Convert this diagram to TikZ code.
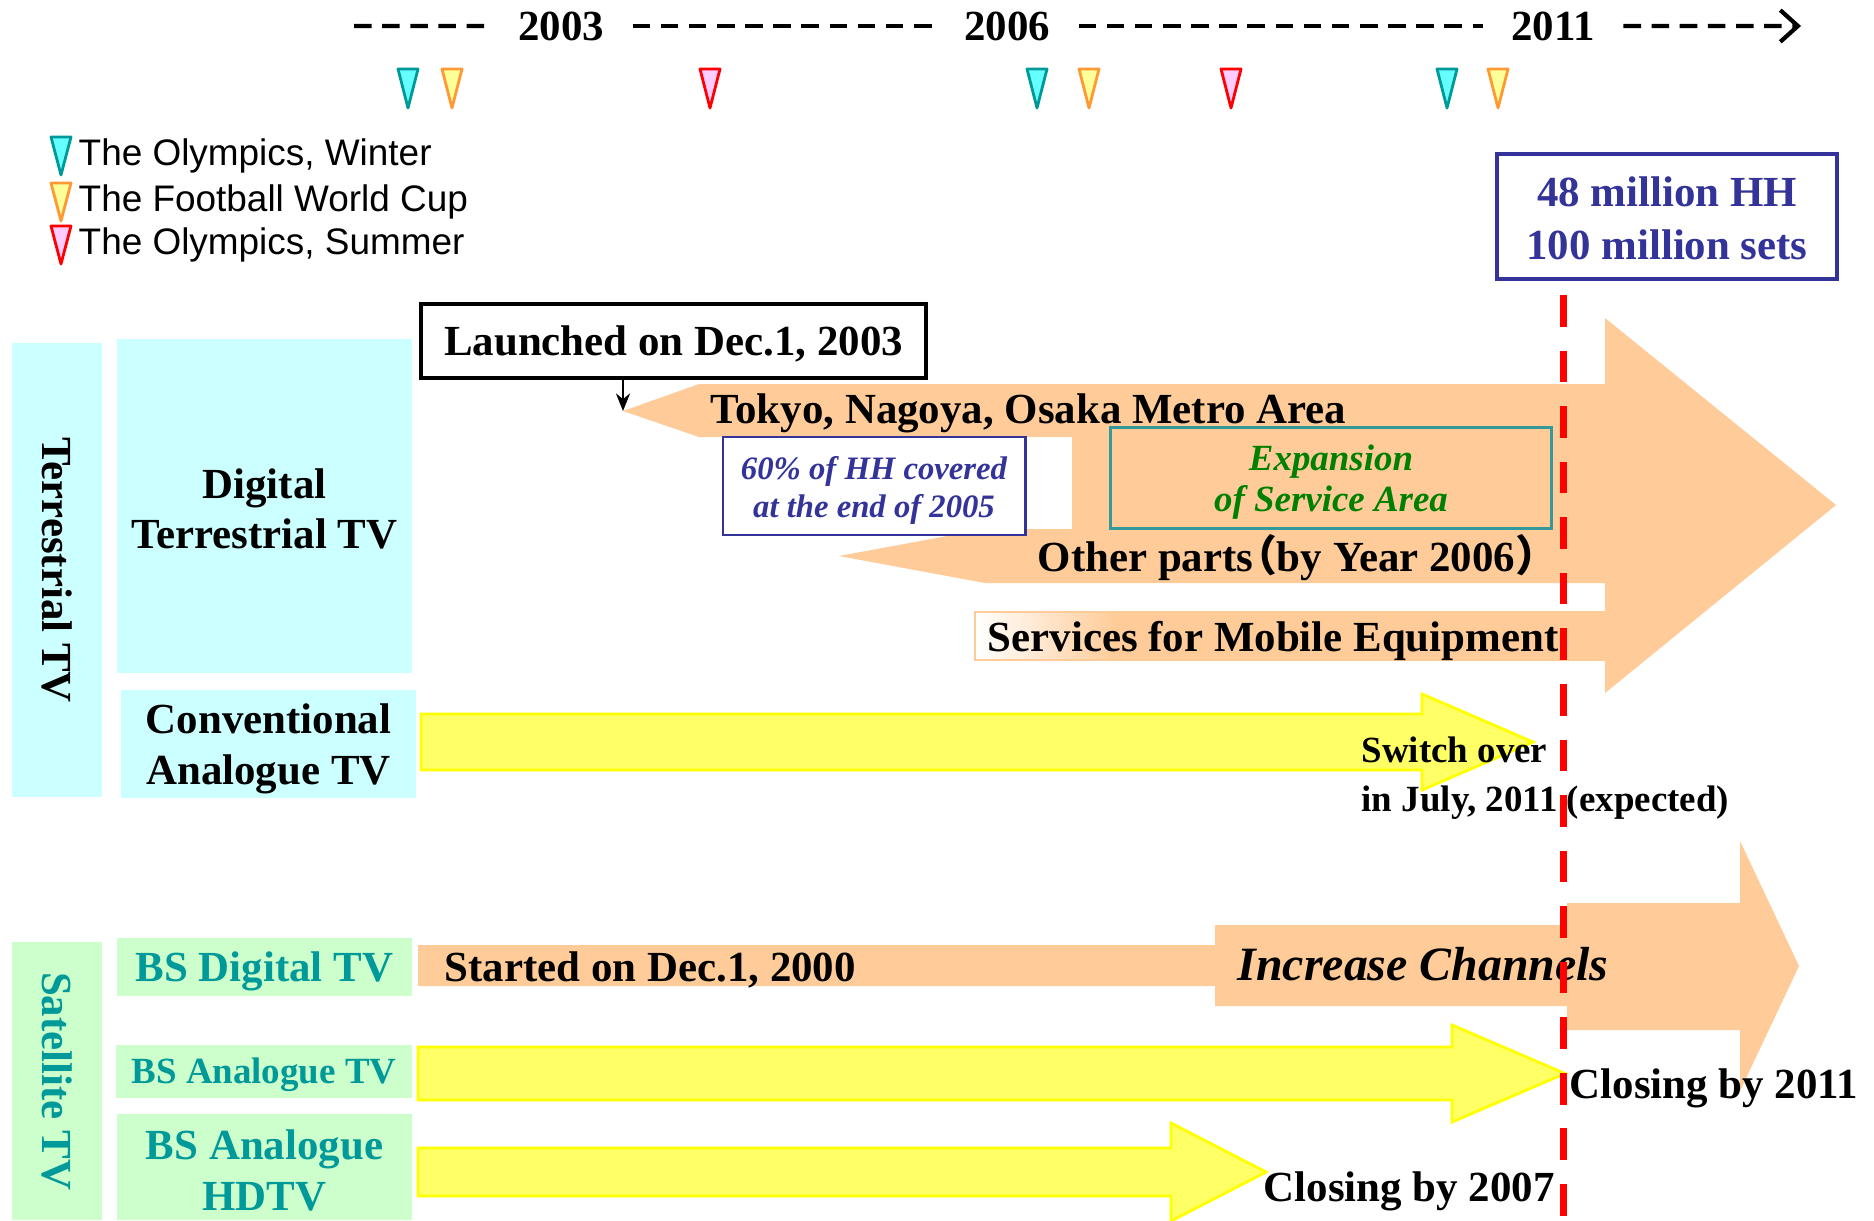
\documentclass[tikz,border=0pt]{standalone}
\usepackage{fontspec}
\setmainfont{Liberation Serif}
\newfontfamily\legendfont{Liberation Sans}
\newfontfamily\cjkfont{Noto Sans CJK JP}
\usepackage{tikz}
\usetikzlibrary{arrows.meta}
\definecolor{termcyan}{HTML}{CCFFFF}
\definecolor{satgreen}{HTML}{CCFFCC}
\definecolor{satteal}{HTML}{009999}
\definecolor{bandorange}{HTML}{FFCC99}
\definecolor{baryellow}{HTML}{FFFF66}
\definecolor{edgeyellow}{HTML}{FFFF00}
\definecolor{hhblue}{HTML}{333399}
\definecolor{expgreen}{HTML}{008000}
\definecolor{expedge}{HTML}{339999}
\definecolor{winterfill}{HTML}{66FFFF}
\definecolor{winterdraw}{HTML}{009999}
\definecolor{cupfill}{HTML}{FFFF99}
\definecolor{cupdraw}{HTML}{FF9933}
\definecolor{summerfill}{HTML}{FFCCFF}
\definecolor{summerdraw}{HTML}{FF0000}
\tikzstyle{bigfont} = [font=\bfseries\fontsize{12.2}{14.4}\selectfont]
\tikzstyle{midfont} = [font=\bfseries\fontsize{10.5}{14}\selectfont]
\tikzstyle{year} = [bigfont, inner xsep=2.8mm, inner ysep=0pt, text height=8pt, text depth=0pt, anchor=base]
\tikzstyle{timeline} = [line width=1.2pt, dash pattern=on 5pt off 3pt]
\tikzstyle{caption} = [bigfont, inner sep=0pt, anchor=base west]
\tikzstyle{legend} = [inner sep=0pt, anchor=base west, font=\legendfont\fontsize{10.5}{12}\selectfont]
\tikzstyle{category} = [bigfont, fill=termcyan, rotate=-90, minimum height=0.9cm, inner sep=0pt]
\tikzstyle{service} = [fill=termcyan, minimum width=2.95cm, inner sep=0pt]
\tikzstyle{bsservice} = [service, bigfont, fill=satgreen, text=satteal]
\tikzstyle{boxtext} = [bigfont, align=center, inner sep=0pt]
\tikzstyle{yellowbar} = [fill=baryellow, draw=edgeyellow, line width=0.8pt]
\tikzstyle{orangebar} = [fill=bandorange]
\tikzstyle{flag} = [line width=0.8pt, line join=round]

\begin{document}
\begin{tikzpicture}[x=0.01cm, y=-0.01cm]
    \useasboundingbox (0,0) rectangle (1874,1220);
    % time axis
    \node[year] (y2003) at (561,40) {2003};
    \node[year] (y2006) at (1007,40) {2006};
    \node[year] (y2011) at (1553,40) {2011};
    \coordinate (tstart) at (354,26);
    \coordinate (tend) at (1801,26);
    \draw[timeline] (tstart) -- (y2003.west);
    \draw[timeline] (y2003.east) -- (y2006.west);
    \draw[timeline] (y2006.east) -- (y2011.west);
    \draw[timeline, -{Straight Barb[length=5pt, width=9pt]}] (y2011.east) -- (tend);
    \foreach \x in {408,1037,1447}
        \draw[flag, fill=winterfill, draw=winterdraw] (\x-10,69) -- (\x+10,69) -- (\x,108) -- cycle;
    \foreach \x in {452,1089,1498}
        \draw[flag, fill=cupfill, draw=cupdraw] (\x-10,69) -- (\x+10,69) -- (\x,108) -- cycle;
    \foreach \x in {710,1231}
        \draw[flag, fill=summerfill, draw=summerdraw] (\x-10,69) -- (\x+10,69) -- (\x,108) -- cycle;

    % legend
    \draw[flag, fill=winterfill, draw=winterdraw] (51,137) -- (71,137) -- (61,175) -- cycle;
    \draw[flag, fill=cupfill, draw=cupdraw] (51,183) -- (71,183) -- (61,221) -- cycle;
    \draw[flag, fill=summerfill, draw=summerdraw] (51,226) -- (71,226) -- (61,264) -- cycle;
    \node[legend] (winter) at (78,165) {The Olympics, Winter};
    \node[legend] (cup) at (78,211) {The Football World Cup};
    \node[legend] (summer) at (78,254) {The Olympics, Summer};

    \node[draw=hhblue, line width=1pt, minimum width=3.4cm, minimum height=1.25cm] (hh) at (1667,216.5) {};
    \node[boxtext, text=hhblue, font=\bfseries\fontsize{12.2}{15}\selectfont] (hhtext) at ([yshift=-0.6pt]hh.center) {48 million HH\\100 million sets};

    % left column
    \node[category, minimum width=4.54cm] (terr) at (57,570) {Terrestrial TV};
    \node[category, fill=satgreen, text=satteal, minimum width=2.78cm] (sat) at (57,1081) {Satellite TV};
    \node[service, minimum height=3.34cm] (dtt) at (264.5,506) {};
    \node[boxtext] (dtttext) at ([yshift=-0.8pt]dtt.center) {Digital\\Terrestrial TV};
    \node[service, minimum height=1.08cm] (conv) at (268.5,744) {};
    \node[boxtext] (convtext) at ([yshift=-1.4pt]conv.center) {Conventional\\Analogue TV};
    \node[bsservice, minimum height=0.58cm, text height=10pt, text depth=2pt] (bsdig) at (264.5,967) {BS Digital TV};
    \node[bsservice, midfont, minimum width=2.96cm, minimum height=0.53cm, text height=8.75pt, text depth=1.75pt] (bsana) at (264,1071.5) {BS Analogue TV};
    \node[service, fill=satgreen, minimum height=1.06cm] (bshd) at (264.5,1167) {};
    \node[boxtext, text=satteal] (bshdtext) at ([yshift=-1pt]bshd.center) {BS Analogue\\HDTV};

    % digital terrestrial
    \fill[orangebar] (699,384) -- (1605,384) -- (1605,318) -- (1836,505) -- (1605,693) -- (1605,583) -- (985,583) -- (839,556) -- (985,529) -- (1072,529) -- (1072,437) -- (699,437) -- (623,411) -- cycle;
    \shade[left color=white, right color=bandorange] (975,612) rectangle (1115,660);
    \fill[orangebar] (1114,612) rectangle (1606,660);
    \draw[bandorange, line width=0.6pt] (1605,612) -- (975,612) -- (975,660) -- (1605,660);
    \node[draw=hhblue, line width=0.8pt, fill=white, minimum width=3.02cm, minimum height=0.98cm] (cover) at (874,486) {};
    \node[boxtext, text=hhblue, font=\bfseries\itshape\fontsize{9.3}{10.8}\selectfont] (covertext) at ([yshift=-1.4pt]cover.center) {60\% of HH covered\\at the end of 2005};
    \node[draw=expedge, line width=0.8pt, minimum width=4.4cm, minimum height=1.01cm] (expand) at (1331,478) {};
    \node[boxtext, text=expgreen, font=\bfseries\itshape\fontsize{10.5}{11.7}\selectfont] (expandtext) at ([yshift=-1.2pt]expand.center) {Expansion\\of Service Area};
    \node[caption] (metro) at (710,423) {Tokyo, Nagoya, Osaka Metro Area};
    \node[caption] (others) at (1037,571) {Other parts{\cjkfont\kern-0.45em （}by Year 2006{\cjkfont ）}};
    \node[caption] (mobile) at (987,651) {Services for Mobile Equipment};
    \node[draw, line width=1pt, fill=white, bigfont, minimum width=5.05cm, minimum height=0.74cm, text height=10pt, text depth=2pt, inner sep=0pt] (launch) at (673.5,341) {Launched on Dec.1, 2003};
    \coordinate (metrotip) at (623,411);
    \draw[-{Stealth[length=5pt, width=4pt]}, line width=0.6pt] (launch.south -| metrotip) -- (metrotip);

    % analogue and satellite
    \draw[yellowbar] (421,714) -- (1422,714) -- (1422,694) -- (1533,742) -- (1422,790) -- (1422,770) -- (421,770) -- cycle;
    \fill[orangebar] (418,945) -- (1215,945) -- (1215,925) -- (1567,925) -- (1567,903) -- (1740,903) -- (1740,841) -- (1799,966) -- (1740,1091) -- (1740,1030) -- (1567,1030) -- (1567,1006) -- (1215,1006) -- (1215,986) -- (418,986) -- cycle;
    \draw[yellowbar] (418,1047) -- (1452,1047) -- (1452,1025) -- (1565,1073.5) -- (1452,1122) -- (1452,1100) -- (418,1100) -- cycle;
    \draw[yellowbar] (418,1148) -- (1171,1148) -- (1171,1123) -- (1266,1172) -- (1171,1221) -- (1171,1196) -- (418,1196) -- cycle;
    \node[caption, midfont] (switch1) at (1361,762) {Switch over};
    \node[caption, midfont] (switch2) at (1361,811) {in July, 2011 (expected)};
    \node[caption] (bsstart) at (444,981) {Started on Dec.1, 2000};
    \node[caption, font=\bfseries\itshape\fontsize{13.6}{16}\selectfont] (channels) at (1237,980) {Increase Channels};
    \node[caption] (close2011) at (1569,1098) {Closing by 2011};
    \node[caption] (close2007) at (1263,1201) {Closing by 2007};

    \draw[red, line width=2pt, dash pattern=on 9pt off 6.8pt] (1563,295) -- (1563,1220);
\end{tikzpicture}
\end{document}
